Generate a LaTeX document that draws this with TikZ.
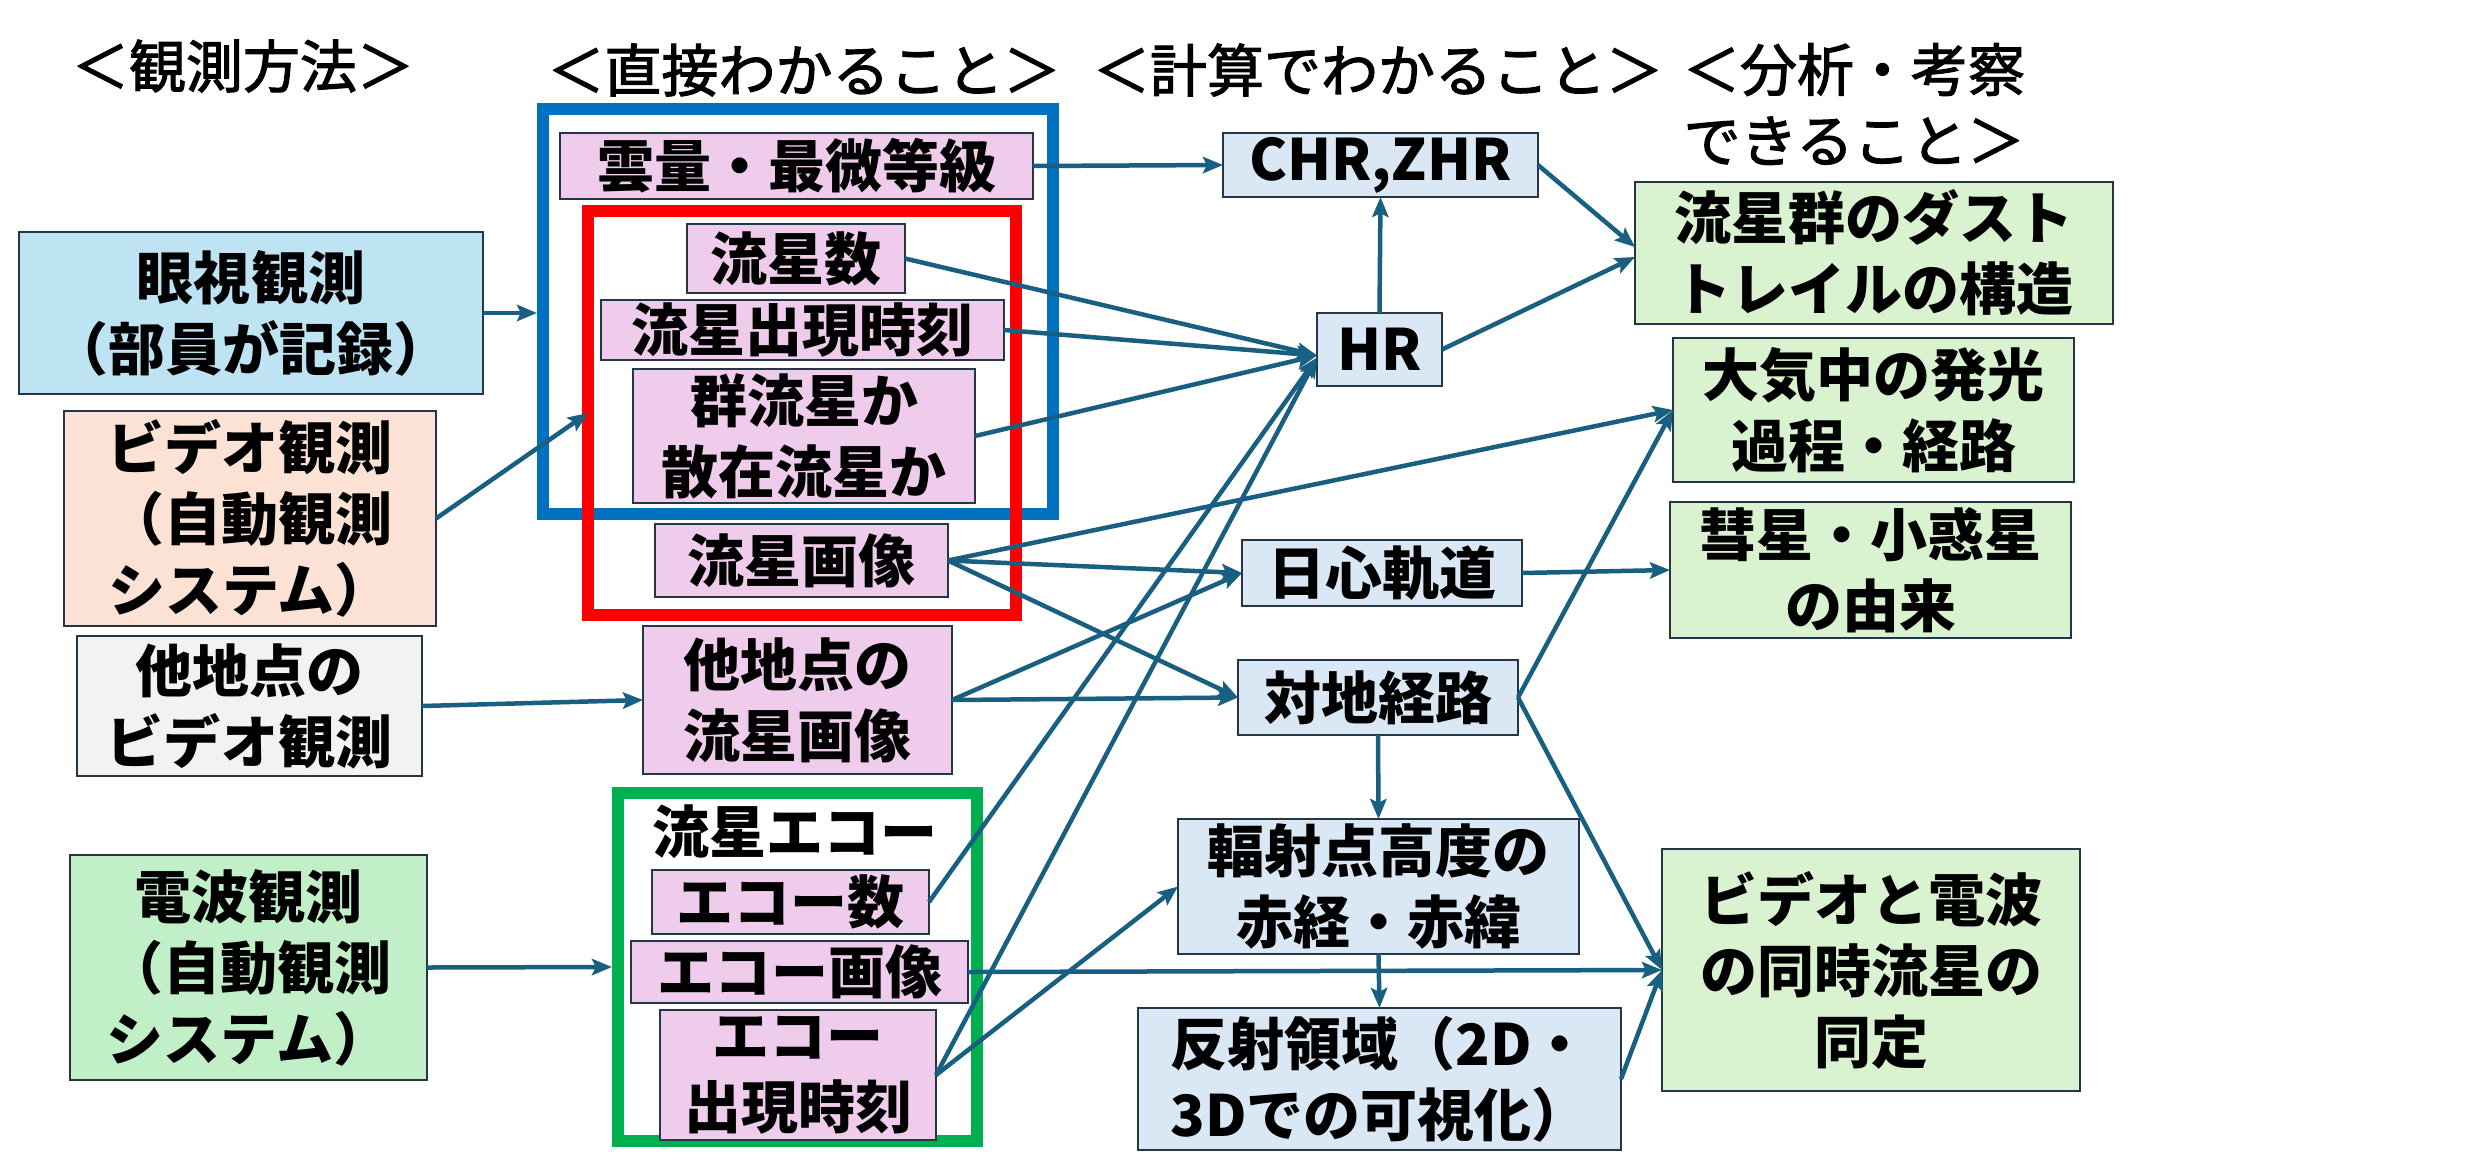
\documentclass[tikz,border=0pt]{standalone}
\usepackage{fontspec}
\setmainfont{Noto Sans CJK JP}
\newfontfamily\titlefont{Noto Sans CJK JP}[FakeBold=2]
\usetikzlibrary{arrows.meta,calc}
\definecolor{arrowc}{RGB}{25,95,130}
\definecolor{boxline}{RGB}{35,55,70}
\definecolor{kanshiF}{RGB}{190,228,243}
\definecolor{videoF}{RGB}{251,226,213}
\definecolor{taF}{RGB}{242,242,242}
\definecolor{denpaF}{RGB}{193,240,200}
\definecolor{pinkF}{RGB}{240,204,236}
\definecolor{calcF}{RGB}{218,232,246}
\definecolor{resF}{RGB}{217,242,208}
\definecolor{blueFr}{RGB}{0,112,192}
\definecolor{redFr}{RGB}{255,0,0}
\definecolor{greenFr}{RGB}{0,176,80}
\tikzset{
  box/.style={draw=boxline, line width=1.1pt, inner sep=0pt, outer sep=0pt, align=center,
    font=\bfseries\fontsize{22.8}{28.4}\selectfont},
  srcbox/.style={box},
  pinkbox/.style={box, fill=pinkF},
  calcbox/.style={box, fill=calcF},
  resbox/.style={box, fill=resF},
  frame/.style={draw, line width=4.8pt, inner sep=0pt},
  title/.style={inner sep=0pt, align=center, font=\titlefont\fontsize{22.8}{28.4}\selectfont},
  conn/.style={draw=arrowc, line width=1.8pt, -{Stealth[length=8pt,width=6.5pt,inset=1.5pt]}}
}
\newcommand\bx[7]{\node[#6, minimum width={(#4-#2)*0.4pt}, minimum height={(#5-#3)*0.4pt}] (#1) at ({(#2+#4)/2},{(#3+#5)/2}) {#7};}
\begin{document}
\begin{tikzpicture}[x=0.4pt,y=-0.4pt]
\useasboundingbox[fill=white] (0,0) rectangle (2479,1167);
% titles
\node[title] (t1) at (243,66) {＜観測方法＞};
\node[title] (t2) at (804,70) {＜直接わかること＞};
\node[title] (t3) at (1378,70) {＜計算でわかること＞};
\node[title] (t4) at (1854,104) {＜分析・考察\\できること＞};
% frames
\bx{blueF}{543}{109}{1053}{514}{frame, draw=blueFr}{}
\bx{redF}{588}{211}{1016}{615}{frame, draw=redFr}{}
\bx{greenF}{618}{793}{977}{1141}{frame, draw=greenFr}{}
% sources
\bx{kanshi}{19}{232}{483}{394}{srcbox, fill=kanshiF}{眼視観測\\（部員が記録）}
\bx{video}{64}{411}{436}{626}{srcbox, fill=videoF}{ビデオ観測\\（自動観測\\システム）}
\bx{tavideo}{77}{636}{422}{776}{srcbox, fill=taF}{他地点の\\ビデオ観測}
\bx{denpa}{70}{855}{427}{1080}{srcbox, fill=denpaF}{電波観測\\（自動観測\\システム）}
% direct
\bx{unryo}{560}{133}{1033}{199}{pinkbox}{雲量・最微等級}
\bx{ryuseisu}{687}{224}{905}{293}{pinkbox}{流星数}
\bx{shutsugen}{601}{300}{1004}{360}{pinkbox}{流星出現時刻}
\bx{gun}{633}{369}{975}{503}{pinkbox}{群流星か\\散在流星か}
\bx{gazo}{655}{524}{948}{597}{pinkbox}{流星画像}
\bx{tagazo}{643}{626}{952}{774}{pinkbox}{他地点の\\流星画像}
\node[inner sep=0pt, font=\bfseries\fontsize{22.8}{28.4}\selectfont] (echo) at (795,832) {流星エコー};
\bx{echosu}{652}{870}{929}{934}{pinkbox}{エコー数}
\bx{echogazo}{631}{941}{968}{1003}{pinkbox}{エコー画像}
\bx{echoji}{660}{1010}{936}{1140}{pinkbox}{エコー\\出現時刻}
% calculated
\bx{chr}{1223}{133}{1538}{197}{calcbox}{CHR,ZHR}
\bx{hr}{1317}{313}{1442}{386}{calcbox}{HR}
\bx{nisshin}{1242}{540}{1522}{606}{calcbox}{日心軌道}
\bx{taichi}{1238}{660}{1518}{735}{calcbox}{対地経路}
\bx{fukusha}{1178}{819}{1579}{954}{calcbox}{輻射点高度の\\赤経・赤緯}
\bx{hansha}{1138}{1008}{1621}{1150}{calcbox}{反射領域（2D・\\3Dでの可視化）}
% results
\bx{dust}{1635}{182}{2113}{324}{resbox}{流星群のダスト\\トレイルの構造}
\bx{taiki}{1673}{338}{2074}{482}{resbox}{大気中の発光\\過程・経路}
\bx{suisei}{1670}{502}{2071}{638}{resbox}{彗星・小惑星\\の由来}
\bx{simul}{1662}{849}{2080}{1091}{resbox}{ビデオと電波\\の同時流星の\\同定}
% connectors
\coordinate (redin) at (588,413);
\draw[conn] (kanshi.east) -- (kanshi.east -| blueF.west);
\draw[conn] (video.east) -- (redin);
\draw[conn] (tavideo.east) -- (tagazo.west);
\draw[conn] (denpa.east) -- (greenF.west);
\draw[conn] (unryo.east) -- (chr.west);
\draw[conn] (ryuseisu.east) -- ($(hr.west)+(0,6)$);
\draw[conn] (shutsugen.east) -- ($(hr.west)+(0,6)$);
\draw[conn] (gun.east) -- ($(hr.west)+(0,6)$);
\draw[conn] (echosu.east) -- ($(hr.west)+(0,8)$);
\draw[conn] (echoji.east) -- ($(hr.west)+(0,8)$);
\draw[conn] (hr.north) -- (chr.south);
\draw[conn] (chr.east) -- ($(dust.west)+(0,-6)$);
\draw[conn] (hr.east) -- ($(dust.west)+(0,4)$);
\draw[conn] (gazo.east) -- (taiki.west);
\draw[conn] (gazo.east) -- (nisshin.west);
\draw[conn] (gazo.east) -- (taichi.west);
\draw[conn] (tagazo.east) -- (nisshin.west);
\draw[conn] (tagazo.east) -- (taichi.west);
\draw[conn] (nisshin.east) -- (suisei.west);
\draw[conn] (taichi.east) -- (taiki.west);
\draw[conn] (taichi.east) -- (simul.west);
\draw[conn] (taichi.south) -- (fukusha.north);
\draw[conn] (fukusha.south) -- (hansha.north);
\draw[conn] (echoji.east) -- (fukusha.west);
\draw[conn] (echogazo.east) -- (simul.west);
\draw[conn] (hansha.east) -- (simul.west);
\end{tikzpicture}
\end{document}
